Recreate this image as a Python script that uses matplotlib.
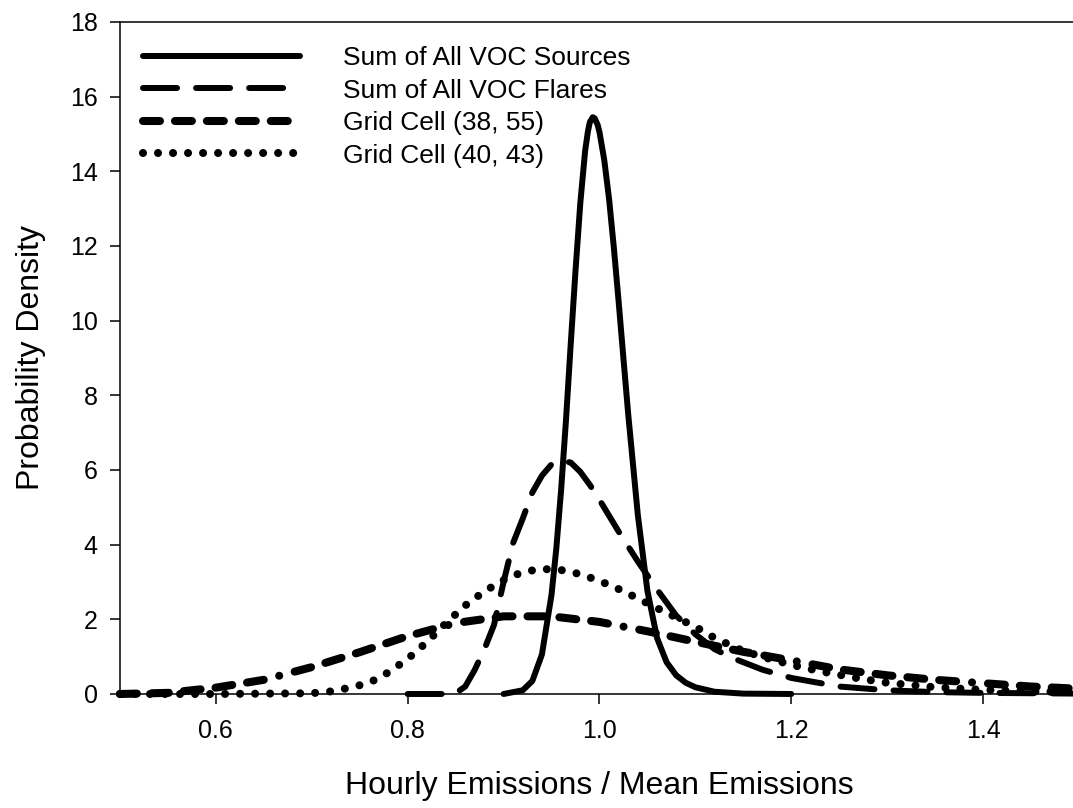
import matplotlib
matplotlib.use("Agg")
import matplotlib.pyplot as plt

plt.rcParams['font.family'] = ['Liberation Sans', 'DejaVu Sans']
plt.rcParams['lines.scale_dashes'] = False

# Hourly emissions normalised by the mean, with the probability density of each
x_sources = [0.90, 0.92, 0.93, 0.94, 0.95, 0.955, 0.96, 0.965, 0.97, 0.975, 0.98,
             0.985, 0.988, 0.99, 0.993, 0.995, 0.998, 1.00, 1.005, 1.01, 1.015,
             1.02, 1.025, 1.03, 1.04, 1.05, 1.06, 1.07, 1.08, 1.09, 1.10, 1.12,
             1.15, 1.20]
pdf_sources = [0.0, 0.10, 0.35, 1.06, 2.66, 3.9, 5.47, 7.31, 9.37, 11.34, 13.15,
               14.54, 15.08, 15.32, 15.45, 15.42, 15.25, 15.05, 14.3, 13.26, 11.95,
               10.5, 8.98, 7.48, 4.79, 2.76, 1.5, 0.85, 0.5, 0.3, 0.18, 0.06,
               0.01, 0.0]

x_flares = [0.80, 0.84, 0.85, 0.86, 0.87, 0.88, 0.89, 0.90, 0.91, 0.92, 0.93,
            0.94, 0.95, 0.96, 0.97, 0.98, 0.99, 1.00, 1.02, 1.04, 1.06, 1.08,
            1.10, 1.12, 1.14, 1.17, 1.20, 1.25, 1.30, 1.35, 1.40, 1.45, 1.50]
pdf_flares = [0.0, 0.0, 0.02, 0.2, 0.65, 1.2, 1.85, 3.0, 4.05, 4.7, 5.4,
              5.85, 6.15, 6.25, 6.2, 5.95, 5.6, 5.2, 4.35, 3.55, 2.8, 2.1,
              1.6, 1.2, 0.95, 0.65, 0.43, 0.2, 0.1, 0.05, 0.03, 0.02, 0.01]

x_cell_38_55 = [0.50, 0.55, 0.60, 0.65, 0.70, 0.75, 0.80, 0.85, 0.90, 0.95, 1.00,
                1.05, 1.10, 1.15, 1.20, 1.25, 1.30, 1.35, 1.40, 1.45, 1.50]
pdf_cell_38_55 = [0.0, 0.03, 0.17, 0.38, 0.72, 1.12, 1.55, 1.9, 2.08, 2.08, 1.93,
                  1.68, 1.4, 1.13, 0.9, 0.66, 0.5, 0.38, 0.29, 0.2, 0.14]

x_cell_40_43 = [0.50, 0.60, 0.70, 0.72, 0.74, 0.76, 0.78, 0.80, 0.82, 0.84, 0.86,
                0.88, 0.90, 0.92, 0.94, 0.96, 0.98, 1.00, 1.02, 1.04, 1.06, 1.08,
                1.10, 1.12, 1.15, 1.18, 1.21, 1.24, 1.27, 1.30, 1.35, 1.40, 1.45, 1.50]
pdf_cell_40_43 = [0.0, 0.0, 0.02, 0.07, 0.17, 0.3, 0.58, 0.94, 1.39, 1.9, 2.37,
                  2.75, 3.05, 3.27, 3.35, 3.32, 3.21, 3.03, 2.81, 2.56, 2.3, 2.05,
                  1.8, 1.5, 1.15, 0.92, 0.72, 0.56, 0.42, 0.3, 0.18, 0.11, 0.07, 0.05]

labels = ['Sum of All VOC Sources', 'Sum of All VOC Flares',
          'Grid Cell (38, 55)', 'Grid Cell (40, 43)']

fig = plt.figure(figsize=(10.73, 8.08), dpi=100)
ax = fig.add_axes([0.1118, 0.1411, 0.8938, 0.8317])

common = dict(color='black', clip_on=False, solid_capstyle='round',
              dash_capstyle='round', solid_joinstyle='round')
ax.plot(x_sources, pdf_sources, lw=4.3, ls='-', label=labels[0], **common)
ax.plot(x_flares, pdf_flares, lw=4.3, ls=(0, (24.5, 13.7)), label=labels[1], **common)
dash_dot = (12.2, 10.8) * 4 + (12.2, 11.5, 0.01, 11.5)
ax.plot(x_cell_38_55, pdf_cell_38_55, lw=5.8, ls=(0, dash_dot), label=labels[2], **common)
ax.plot(x_cell_40_43, pdf_cell_40_43, lw=5.8, ls=(0, (0.01, 10.8)), label=labels[3], **common)

ax.set_xlim(0.5, 1.5)
ax.set_ylim(0, 18)
ax.set_xticks([0.6, 0.8, 1.0, 1.2, 1.4])
ax.set_yticks(range(0, 19, 2))

for side in ['left', 'bottom', 'top']:
    ax.spines[side].set_linewidth(1.1)
ax.spines['right'].set_visible(False)

ax.tick_params(axis='both', direction='out', length=7, width=1.1, labelsize=18)
ax.tick_params(axis='x', pad=11, top=False)
ax.tick_params(axis='y', pad=9, right=False)

ax.set_xlabel('Hourly Emissions / Mean Emissions', fontsize=23)
ax.set_ylabel('Probability Density', fontsize=23)
ax.xaxis.set_label_coords(0.5, -0.1146)
ax.yaxis.set_label_coords(-0.0772, 0.5)

ax.legend(loc='upper left', bbox_to_anchor=(0.024, 0.964), frameon=False,
          fontsize=19, handlelength=5.95, handletextpad=1.63, labelspacing=0.32,
          borderpad=0, borderaxespad=0)

fig.savefig('out.png', dpi=100)
